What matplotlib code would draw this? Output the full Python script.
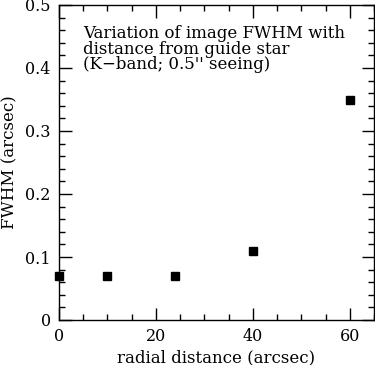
import numpy as np
import matplotlib.pyplot as plt
from matplotlib.ticker import MultipleLocator

# FWHM vs radial distance from guide star
radial_distance = [0, 10, 24, 40, 60]
fwhm = [0.07, 0.07, 0.07, 0.11, 0.35]

plt.rcParams["font.family"] = "DejaVu Serif"

fig = plt.figure(figsize=(3.75, 3.65), dpi=100)
ax = fig.add_axes([59 / 375, 45 / 365, 315 / 375, 315 / 365])

ax.plot(radial_distance, fwhm, "s", color="black", markersize=5.5, clip_on=False)

ax.set_xlim(0, 65)
ax.set_ylim(0, 0.5)
ax.xaxis.set_major_locator(MultipleLocator(20))
ax.xaxis.set_minor_locator(MultipleLocator(5))
ax.yaxis.set_major_locator(MultipleLocator(0.1))
ax.yaxis.set_minor_locator(MultipleLocator(0.02))
ax.yaxis.set_major_formatter(plt.FuncFormatter(lambda v, p: "0" if v == 0 else f"{v:.1f}"))

ax.tick_params(which="both", direction="in", top=True, right=True, labelsize=11.5)
ax.tick_params(which="major", length=9, width=1, pad=6)
ax.tick_params(which="minor", length=4.5, width=1)
for s in ax.spines.values():
    s.set_linewidth(1)

ax.set_xlabel("radial distance (arcsec)", fontsize=12, labelpad=3)
ax.set_ylabel("FWHM (arcsec)", fontsize=12, labelpad=5)

ax.text(0.076, 0.935, "Variation of image FWHM with\ndistance from guide star\n(K\u2212band; 0.5'' seeing)",
        transform=ax.transAxes, ha="left", va="top", fontsize=12, linespacing=0.88)

fig.savefig("out.png", dpi=100)
